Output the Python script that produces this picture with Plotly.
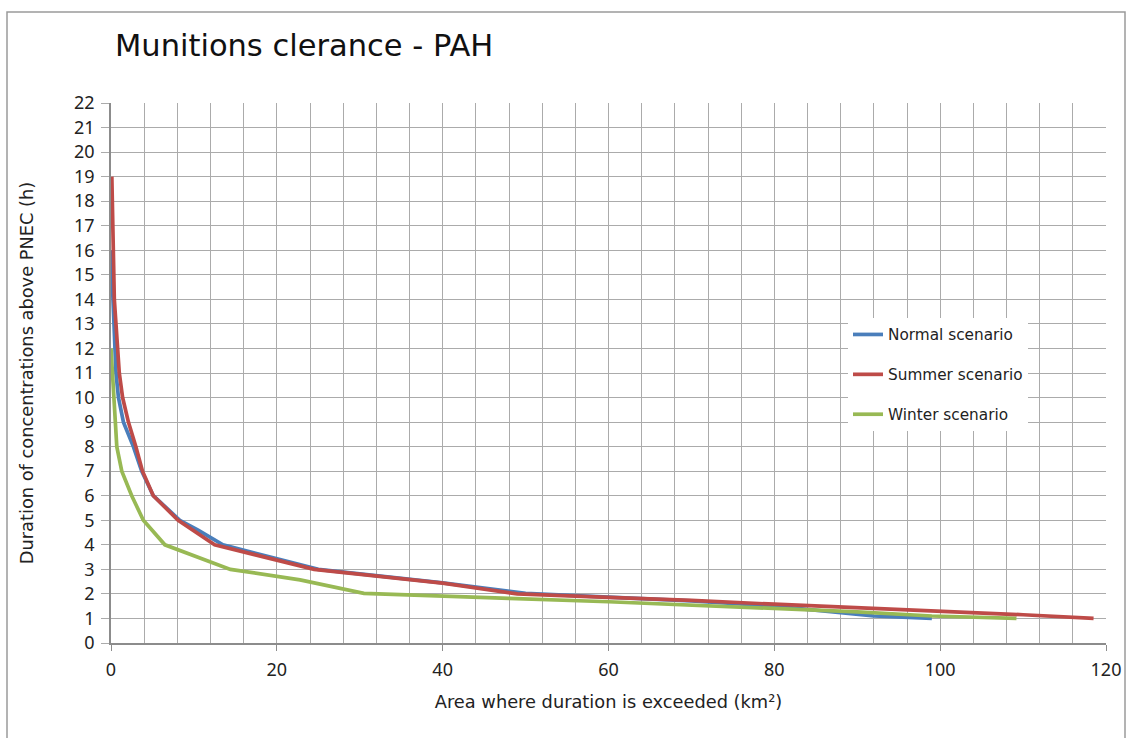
import plotly.graph_objects as go

# ---- data ----
normal_area = [0.0, 0.2, 0.4, 0.6, 0.9, 1.5, 2.7, 3.7, 5.1, 8.3, 10.5, 13.5, 25.0, 40.0, 50.0, 60.0, 70.0, 80.0, 88.0, 92.0, 99.0]
normal_dur = [16, 14, 12, 11, 10, 9, 8, 7, 6, 5, 4.6, 4, 3, 2.45, 2.02, 1.88, 1.72, 1.5, 1.22, 1.1, 1.0]

summer_area = [0.1, 0.2, 0.3, 0.4, 0.6, 0.8, 1.0, 1.4, 2.1, 3.0, 3.8, 5.1, 8.1, 12.5, 24.5, 40.0, 49.0, 60.0, 70.0, 80.0, 90.0, 99.0, 110.0, 118.5]
summer_dur = [19, 17, 15, 14, 13, 12, 11, 10, 9, 8, 7, 6, 5, 4, 3, 2.44, 2.0, 1.86, 1.74, 1.58, 1.44, 1.3, 1.15, 1.0]

winter_area = [0.0, 0.2, 0.35, 0.5, 0.7, 1.3, 2.5, 3.9, 6.5, 14.4, 22.8, 30.5, 40.0, 48.0, 60.0, 70.0, 80.0, 90.0, 99.0, 109.2]
winter_dur = [12, 11, 10, 9, 8, 7, 6, 5, 4, 3, 2.57, 2.02, 1.93, 1.82, 1.68, 1.55, 1.43, 1.27, 1.1, 1.0]

series_names = ["Normal scenario", "Summer scenario", "Winter scenario"]
series_colors = ["#4A7EBB", "#BE4B48", "#98B954"]

title_text = "Munitions clerance - PAH"
x_title = "Area where duration is exceeded (km²)"
y_title = "Duration of concentrations above PNEC (h)"

x_ticks = [0, 20, 40, 60, 80, 100, 120]
y_ticks = list(range(0, 23))

# ---- figure ----
W, H = 1128, 738
L, R, T, B = 111, 1106, 103, 643
pw, ph = R - L, B - T

fig = go.Figure()

data = {
    0: (normal_area, normal_dur),
    1: (summer_area, summer_dur),
    2: (winter_area, winter_dur),
}
draw_order = [0, 2, 1]
for i in draw_order:
    xs, ys = data[i]
    fig.add_trace(go.Scatter(
        x=xs, y=ys, mode="lines", name=series_names[i],
        line=dict(color=series_colors[i], width=3.7),
        legendgroup=series_names[i], legendrank=i + 1,
    ))

def px_x(p):
    return (p - L) / pw

def px_y(p):
    return (B - p) / ph

grid_col = "#ABABAB"
axis_col = "#8C8C8C"
tick_font = dict(family="Noto Sans, DejaVu Sans, sans-serif", size=18, color="#222222")
label_font = dict(family="DejaVu Sans, Verdana, sans-serif", size=17.8, color="#222222")

fig.update_layout(
    width=W, height=H,
    margin=dict(l=L, r=W - R, t=T, b=H - B, autoexpand=False),
    paper_bgcolor="white", plot_bgcolor="white",
    showlegend=True,
    legend=dict(
        x=px_x(848), y=px_y(318), xanchor="left", yanchor="top",
        bgcolor="white", borderwidth=0,
        font=dict(family="DejaVu Sans, Verdana, sans-serif", size=15.3, color="#222222"),
        tracegroupgap=17, traceorder="grouped",
    ),
    xaxis=dict(
        range=[0, 120], tickvals=x_ticks, ticktext=[str(v) for v in x_ticks],
        showgrid=True, gridcolor=grid_col, gridwidth=1,
        minor=dict(dtick=4, tick0=0, showgrid=True, gridcolor=grid_col, gridwidth=1),
        showline=True, linecolor=axis_col, linewidth=1.5,
        ticks="outside", ticklen=6, tickcolor=axis_col, tickwidth=1,
        ticklabelstandoff=4,
        tickfont=tick_font, zeroline=False, fixedrange=True,
        title=dict(text=x_title, standoff=15, font=label_font),
    ),
    yaxis=dict(
        range=[0, 22], tickvals=y_ticks, ticktext=[str(v) for v in y_ticks],
        showgrid=True, gridcolor=grid_col, gridwidth=1,
        showline=True, linecolor=axis_col, linewidth=1.5,
        ticks="outside", ticklen=8, tickcolor=grid_col, tickwidth=1,
        ticklabelstandoff=3,
        tickfont=tick_font, zeroline=False, fixedrange=True,
        title=dict(text=y_title, standoff=36, font=label_font),
    ),
    font=dict(family="DejaVu Sans, Verdana, sans-serif"),
)

# title
fig.add_annotation(
    text=title_text, xref="paper", yref="paper",
    x=px_x(113), y=px_y(45), xanchor="left", yanchor="middle",
    showarrow=False,
    font=dict(family="DejaVu Sans, Verdana, sans-serif", size=30.5, color="#111111"),
)

# outer chart border
fig.add_shape(
    type="rect", xref="paper", yref="paper",
    x0=px_x(7), x1=px_x(1125), y0=px_y(760), y1=px_y(12),
    line=dict(color="#9A9A9A", width=1.5), fillcolor="rgba(0,0,0,0)", layer="below",
)

fig.write_html(
    "out.html",
    config={"displayModeBar": False},
    post_script="document.body.style.margin='0';document.body.style.overflow='hidden';",
)
